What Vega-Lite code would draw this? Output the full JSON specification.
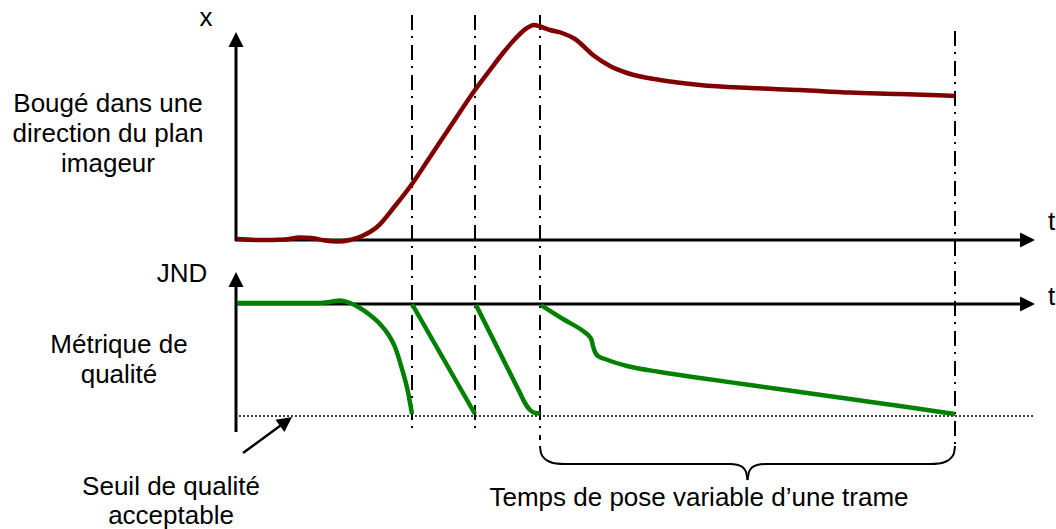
{
  "$schema": "https://vega.github.io/schema/vega-lite/v6.json",
  "width": 1056,
  "height": 529,
  "padding": 0,
  "autosize": {"type": "fit", "contains": "padding"},
  "background": "white",
  "config": {"view": {"stroke": null}},
  "datasets": {
    "rules": [
      {"kind": "axis", "x": 236, "y": 241, "x2": 236, "y2": 44},
      {"kind": "axis", "x": 235, "y": 240, "x2": 1022, "y2": 240},
      {"kind": "axis", "x": 236, "y": 432, "x2": 236, "y2": 284},
      {"kind": "axis", "x": 235, "y": 304, "x2": 1022, "y2": 304},
      {"kind": "pointer", "x": 243, "y": 453, "x2": 288, "y2": 420},
      {"kind": "dashdot", "x": 412, "y": 15, "x2": 412, "y2": 433},
      {"kind": "dashdot", "x": 475, "y": 15, "x2": 475, "y2": 433},
      {"kind": "dashdot", "x": 540, "y": 15, "x2": 540, "y2": 440},
      {"kind": "dashdot", "x": 955, "y": 31, "x2": 955, "y2": 447},
      {"kind": "dotted", "x": 239, "y": 416, "x2": 1035, "y2": 416}
    ],
    "heads": [
      {"x": 236, "y": 39.5, "angle": 0},
      {"x": 236, "y": 279.5, "angle": 0},
      {"x": 1027.5, "y": 240, "angle": 90},
      {"x": 1027.5, "y": 304, "angle": 90},
      {"x": 286, "y": 421.4, "angle": 53.7}
    ],
    "bouge": [
      {"x": 237, "y": 239}, {"x": 260, "y": 240}, {"x": 285, "y": 239.5}, {"x": 300, "y": 237.5},
      {"x": 312, "y": 238}, {"x": 325, "y": 240.5}, {"x": 338, "y": 241.5}, {"x": 350, "y": 240},
      {"x": 362, "y": 236}, {"x": 377, "y": 227}, {"x": 395, "y": 206}, {"x": 412, "y": 184},
      {"x": 430, "y": 157}, {"x": 450, "y": 127}, {"x": 475, "y": 90}, {"x": 490, "y": 70},
      {"x": 503, "y": 53}, {"x": 515, "y": 39}, {"x": 527, "y": 28}, {"x": 534, "y": 25},
      {"x": 540, "y": 26.5}, {"x": 550, "y": 30}, {"x": 562, "y": 33}, {"x": 575, "y": 39},
      {"x": 593, "y": 55}, {"x": 610, "y": 66}, {"x": 627, "y": 73}, {"x": 660, "y": 80},
      {"x": 700, "y": 85}, {"x": 750, "y": 88}, {"x": 800, "y": 90}, {"x": 850, "y": 92.5},
      {"x": 900, "y": 94}, {"x": 955, "y": 96}
    ],
    "qualite": [
      {"seg": 1, "x": 237, "y": 303}, {"seg": 1, "x": 280, "y": 303}, {"seg": 1, "x": 320, "y": 303},
      {"seg": 1, "x": 330, "y": 302}, {"seg": 1, "x": 340, "y": 300.5}, {"seg": 1, "x": 350, "y": 303},
      {"seg": 1, "x": 360, "y": 308}, {"seg": 1, "x": 370, "y": 315}, {"seg": 1, "x": 380, "y": 324},
      {"seg": 1, "x": 388, "y": 334}, {"seg": 1, "x": 395, "y": 347}, {"seg": 1, "x": 402, "y": 369},
      {"seg": 1, "x": 408, "y": 392}, {"seg": 1, "x": 412, "y": 414},
      {"seg": 2, "x": 412, "y": 304}, {"seg": 2, "x": 475, "y": 414},
      {"seg": 3, "x": 476, "y": 305}, {"seg": 3, "x": 498, "y": 349}, {"seg": 3, "x": 520, "y": 393},
      {"seg": 3, "x": 525, "y": 403}, {"seg": 3, "x": 530, "y": 410}, {"seg": 3, "x": 535, "y": 413},
      {"seg": 3, "x": 540, "y": 413.5},
      {"seg": 4, "x": 541, "y": 305}, {"seg": 4, "x": 563, "y": 319}, {"seg": 4, "x": 585, "y": 332.5},
      {"seg": 4, "x": 589, "y": 336}, {"seg": 4, "x": 591.5, "y": 340}, {"seg": 4, "x": 593, "y": 346},
      {"seg": 4, "x": 595, "y": 352}, {"seg": 4, "x": 598, "y": 356}, {"seg": 4, "x": 605, "y": 359},
      {"seg": 4, "x": 627, "y": 366}, {"seg": 4, "x": 660, "y": 372}, {"seg": 4, "x": 700, "y": 378},
      {"seg": 4, "x": 750, "y": 385}, {"seg": 4, "x": 800, "y": 392}, {"seg": 4, "x": 850, "y": 399},
      {"seg": 4, "x": 900, "y": 406}, {"seg": 4, "x": 955, "y": 414}
    ],
    "brace": [
      {"half": "L", "x": 540, "y": 446}, {"half": "L", "x": 541, "y": 453}, {"half": "L", "x": 544, "y": 458},
      {"half": "L", "x": 549, "y": 461.5}, {"half": "L", "x": 556, "y": 463.5}, {"half": "L", "x": 565, "y": 464},
      {"half": "L", "x": 730, "y": 464}, {"half": "L", "x": 738, "y": 465}, {"half": "L", "x": 743, "y": 467.5},
      {"half": "L", "x": 746, "y": 472}, {"half": "L", "x": 747.5, "y": 480},
      {"half": "R", "x": 747.5, "y": 480}, {"half": "R", "x": 749, "y": 472}, {"half": "R", "x": 752, "y": 467.5},
      {"half": "R", "x": 757, "y": 465}, {"half": "R", "x": 765, "y": 464}, {"half": "R", "x": 930, "y": 464},
      {"half": "R", "x": 939, "y": 463.5}, {"half": "R", "x": 946, "y": 461.5}, {"half": "R", "x": 951, "y": 458},
      {"half": "R", "x": 954, "y": 453}, {"half": "R", "x": 955, "y": 446}
    ],
    "labels": [
      {"label": "x", "x": 206, "y": 26},
      {"label": "Bougé dans une", "x": 108, "y": 112},
      {"label": "direction du plan", "x": 108, "y": 142},
      {"label": "imageur", "x": 108, "y": 172},
      {"label": "t", "x": 1051.5, "y": 230},
      {"label": "JND", "x": 182, "y": 282},
      {"label": "Métrique de", "x": 119, "y": 353},
      {"label": "qualité", "x": 119, "y": 383},
      {"label": "t", "x": 1051.5, "y": 305},
      {"label": "Seuil de qualité", "x": 171, "y": 495},
      {"label": "acceptable", "x": 171, "y": 524},
      {"label": "Temps de pose variable d’une trame", "x": 699, "y": 506}
    ]
  },
  "encoding": {
    "x": {"field": "x", "type": "quantitative", "scale": {"domain": [0, 1056], "nice": false, "zero": false}, "axis": null},
    "y": {"field": "y", "type": "quantitative", "scale": {"domain": [0, 529], "nice": false, "zero": false, "reverse": true}, "axis": null}
  },
  "layer": [
    {
      "data": {"name": "rules"},
      "transform": [{"filter": "datum.kind === 'dotted'"}],
      "mark": {"type": "rule", "color": "black", "strokeWidth": 1.5, "strokeDash": [2, 2]},
      "encoding": {"x2": {"field": "x2"}, "y2": {"field": "y2"}}
    },
    {
      "data": {"name": "rules"},
      "transform": [{"filter": "datum.kind === 'dashdot'"}],
      "mark": {"type": "rule", "color": "black", "strokeWidth": 2, "strokeDash": [15, 6, 2, 7]},
      "encoding": {"x2": {"field": "x2"}, "y2": {"field": "y2"}}
    },
    {
      "data": {"name": "rules"},
      "transform": [{"filter": "datum.kind === 'axis'"}],
      "mark": {"type": "rule", "color": "black", "strokeWidth": 3},
      "encoding": {"x2": {"field": "x2"}, "y2": {"field": "y2"}}
    },
    {
      "data": {"name": "rules"},
      "transform": [{"filter": "datum.kind === 'pointer'"}],
      "mark": {"type": "rule", "color": "black", "strokeWidth": 2.5},
      "encoding": {"x2": {"field": "x2"}, "y2": {"field": "y2"}}
    },
    {
      "data": {"name": "heads"},
      "mark": {"type": "point", "shape": "M0,-1L1,1L-1,1Z", "filled": true, "color": "black", "opacity": 1, "size": 225, "strokeWidth": 0},
      "encoding": {"angle": {"field": "angle", "type": "quantitative", "scale": null}}
    },
    {
      "data": {"name": "brace"},
      "mark": {"type": "line", "color": "black", "strokeWidth": 2, "interpolate": "monotone"},
      "encoding": {"detail": {"field": "half"}}
    },
    {
      "data": {"name": "bouge"},
      "mark": {"type": "line", "color": "#800000", "strokeWidth": 4.5, "interpolate": "monotone"}
    },
    {
      "data": {"name": "qualite"},
      "mark": {"type": "line", "color": "#008000", "strokeWidth": 4.5, "interpolate": "monotone"},
      "encoding": {"detail": {"field": "seg"}}
    },
    {
      "data": {"name": "labels"},
      "mark": {"type": "text", "font": "Liberation Sans", "fontSize": 26, "align": "center", "baseline": "alphabetic", "color": "black"},
      "encoding": {"text": {"field": "label"}}
    }
  ]
}
